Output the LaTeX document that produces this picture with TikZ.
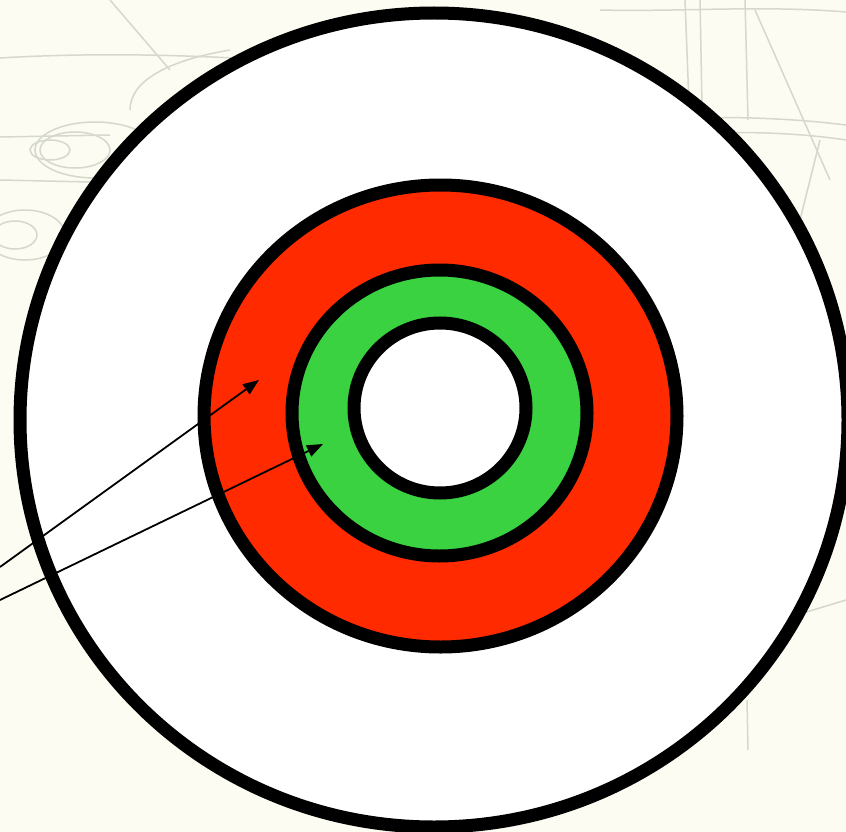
\documentclass[tikz,border=0pt]{standalone}
\usetikzlibrary{arrows.meta}
\definecolor{bgcream}{HTML}{FCFCF2}
\definecolor{sketch}{HTML}{D6D8CC}
\definecolor{ringred}{HTML}{FF2A00}
\definecolor{ringgreen}{HTML}{3AD240}
\tikzset{
  ring/.style={draw=black, line width=13pt},
  pointer/.style={draw=black, line width=1.8pt, -{Triangle[length=16pt,width=12pt]}},
  faint/.style={draw=sketch, line width=1.5pt}
}
\begin{document}
\begin{tikzpicture}[x=1pt,y=-1pt]
\useasboundingbox (0,0) rectangle (846,832);
\clip (0,0) rectangle (846,832);
\fill[bgcream] (0,0) rectangle (846,832);
% faint background sketch
\draw[faint] (0,58) .. controls (100,52) and (200,55) .. (300,62);
\draw[faint] (110,0) -- (170,70);
\draw[faint] (130,110) .. controls (130,80) and (170,60) .. (230,50);
\draw[faint] (50,150) ellipse (20 and 10);
\draw[faint] (75,150) ellipse (35 and 18);
\draw[faint] (95,150) ellipse (60 and 28);
\draw[faint] (0,137) -- (110,135);
\draw[faint] (0,180) -- (90,182);
\draw[faint] (15,235) ellipse (22 and 14);
\draw[faint] (25,235) ellipse (40 and 25);
\draw[faint] (600,10) .. controls (680,12) and (760,5) .. (846,12);
\draw[faint] (685,0) -- (690,130);
\draw[faint] (700,0) -- (703,160);
\draw[faint] (745,0) -- (748,120);
\draw[faint] (755,10) -- (830,180);
\draw[faint] (640,120) .. controls (720,115) and (790,118) .. (846,125);
\draw[faint] (660,135) .. controls (740,130) and (800,133) .. (846,140);
\draw[faint] (820,140) -- (800,220);
\draw[faint] (780,620) -- (846,600);
\draw[faint] (747,700) -- (748,750);
% rings
\filldraw[ring, fill=white] (434,420) ellipse (414 and 407);
\filldraw[ring, fill=ringred] (440.5,416) ellipse (236.5 and 231);
\filldraw[ring, fill=ringgreen] (439.5,413) ellipse (147.5 and 143);
\filldraw[ring, fill=white] (440,408) ellipse (86 and 85);
% pointers
\coordinate (s1) at (0,567);
\coordinate (t1) at (259,380);
\coordinate (s2) at (0,600);
\coordinate (t2) at (323,444);
\draw[pointer] (s1) -- (t1);
\draw[pointer] (s2) -- (t2);
\end{tikzpicture}
\end{document}
